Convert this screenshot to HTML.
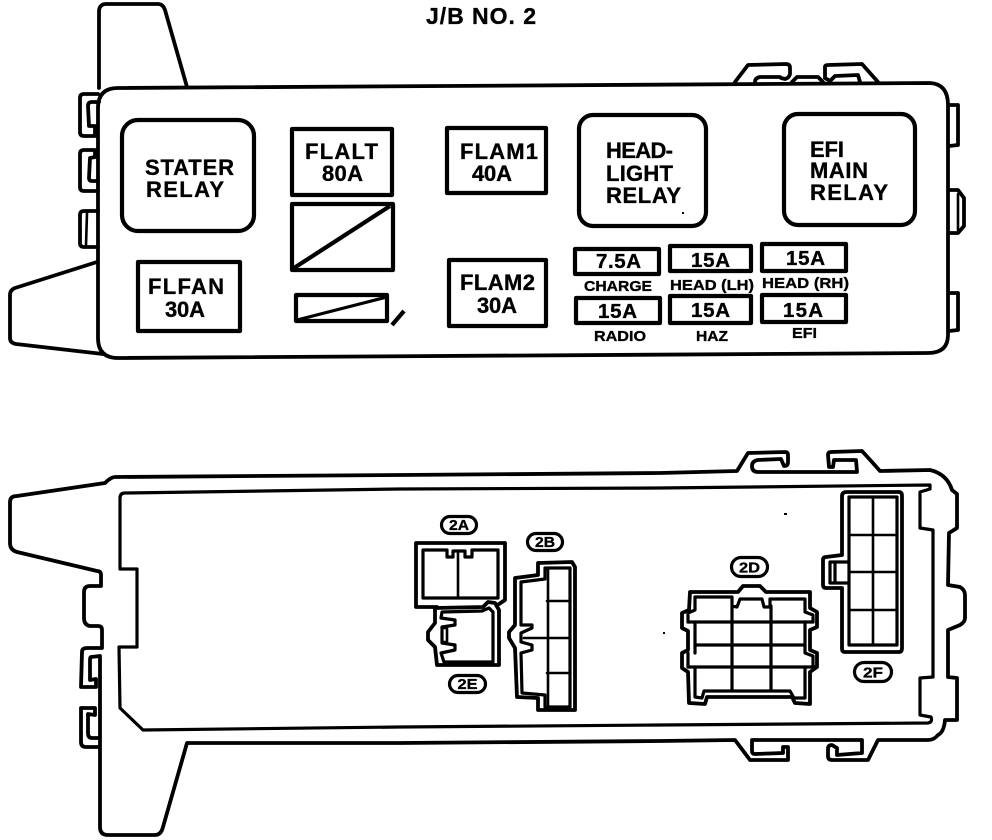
<!DOCTYPE html>
<html><head><meta charset="utf-8"><title>J/B No. 2</title>
<style>
html,body{margin:0;padding:0;background:#fff}
svg{display:block}
text{font-family:"Liberation Sans",Arial,sans-serif;font-weight:bold;fill:#000;stroke:#000;stroke-width:.35}
.o{fill:none;stroke:#000;stroke-width:3.8;stroke-linejoin:round;stroke-linecap:round}
.m{fill:none;stroke:#000;stroke-width:3.2;stroke-linejoin:round;stroke-linecap:round}
.t{fill:none;stroke:#000;stroke-width:2.6;stroke-linejoin:round;stroke-linecap:round}
.b{fill:none;stroke:#000;stroke-width:4.2;stroke-linejoin:round}
.f{font-size:22px}.g{font-size:20.5px}.l{font-size:15px}.c{font-size:15px}
</style></head><body>
<svg width="992" height="840" viewBox="0 0 992 840" xmlns="http://www.w3.org/2000/svg">
<rect width="992" height="840" fill="#fff"/>
<text x="426" y="24" font-size="23" textLength="110">J/B NO. 2</text>

<!-- TOP PANEL -->
<path class="o" d="M118,88 L930,83 Q948,84 948,105 L948,335 Q948,353 928,353 L118,358 Q98,358 98,338 L98,108 Q98,88 118,88Z"/>
<path class="o" d="M99,88 L99,12 Q99,4 106,4 L158,4 Q163,4 165,10 L187,87"/>
<path class="o" d="M98,94 L84,94 Q80,94 80,98 L80,132 Q80,136 84,136 L95,136 L95,126 L89,126 L88,106 Q88,102 92,102 L99,102"/>
<path class="o" d="M95,150 L84,150 Q80,150 80,154 L80,187 Q80,191 84,191 L98,191 M95,150 L95,157 L90,158 L89,178 Q89,181 92,181 L98,181"/>
<path class="o" d="M98,211 L84,211 Q80,211 80,215 L80,243 Q80,247 84,247 L98,247"/>
<path class="t" d="M87,213 L86,245"/>
<path class="o" d="M97,262 L15,288 Q10,290 10,295 L10,338 Q10,343 16,344 L103,354"/>
<path class="o" d="M735,82 L748,65 L786,64 Q790,64 790,68 L790,74 Q789,78 785,79 L781,78 L780,77 L760,77 Q755,78 755,82"/>
<path class="o" d="M792,82 L797,77 L818,77 L823,82"/>
<path class="o" d="M825,78 L825,67 Q825,65 828,65 L862,64 L878,82 M825,78 L830,81 L835,76 L858,75 L860,82"/>
<path class="o" d="M949,105 L958,105 L958,145 L949,146"/>
<path class="o" d="M949,190 L958,190 L964,198 L964,226 L958,233 L949,233"/>
<path class="t" d="M958,194 L958,230"/>
<path class="o" d="M950,293 L958,293 L958,330 L949,331"/>

<rect class="b" x="122" y="120" width="132" height="111" rx="16"/>
<rect class="b" x="292" y="129" width="100" height="66"/>
<rect class="b" x="292" y="204" width="101" height="66"/>
<path class="b" d="M294,268 L390,206"/>
<rect class="b" x="138" y="262" width="102" height="69"/>
<rect class="b" x="296" y="295" width="91" height="26"/>
<path class="m" d="M297,320 L387,297"/>
<path class="b" d="M392,325 L404,311"/>
<rect class="b" x="447" y="128" width="99" height="65"/>
<rect class="b" x="449" y="260" width="97" height="66"/>
<rect class="b" x="579" y="115" width="127" height="111" rx="14"/>
<rect class="b" x="784" y="114" width="131" height="111" rx="14"/>
<rect class="b" x="575" y="249" width="84" height="25"/>
<rect class="b" x="670" y="246" width="81" height="25"/>
<rect class="b" x="762" y="244" width="84" height="27"/>
<rect class="b" x="576" y="298" width="84" height="25"/>
<rect class="b" x="670" y="296" width="81" height="27"/>
<rect class="b" x="762" y="295" width="84" height="27"/>

<text class="f" x="145" y="175" textLength="89">STATER</text>
<text class="f" x="146" y="197" textLength="78">RELAY</text>
<text class="f" x="305" y="159" textLength="73">FLALT</text>
<text class="f" x="322" y="181" textLength="41">80A</text>
<text class="f" x="460" y="159" textLength="78">FLAM1</text>
<text class="f" x="472" y="181" textLength="40">40A</text>
<text class="f" x="148" y="294" textLength="76">FLFAN</text>
<text class="f" x="165" y="317" textLength="40">30A</text>
<text class="f" x="460" y="290" textLength="75">FLAM2</text>
<text class="f" x="477" y="313" textLength="40">30A</text>
<text class="f" x="606" y="158" textLength="67">HEAD-</text>
<text class="f" x="606" y="181" textLength="67">LIGHT</text>
<text class="f" x="606" y="203" textLength="75">RELAY</text>
<text class="f" x="810" y="157" textLength="34">EFI</text>
<text class="f" x="810" y="178" textLength="58">MAIN</text>
<text class="f" x="810" y="200" textLength="78">RELAY</text>
<text class="g" x="596" y="268" textLength="45">7.5A</text>
<text class="g" x="691" y="267" textLength="39">15A</text>
<text class="g" x="786" y="265" textLength="39">15A</text>
<text class="g" x="598" y="318" textLength="39">15A</text>
<text class="g" x="691" y="317" textLength="39">15A</text>
<text class="g" x="783" y="317" textLength="40">15A</text>
<text class="l" x="584" y="291" textLength="68" lengthAdjust="spacingAndGlyphs">CHARGE</text>
<text class="l" x="670" y="290" textLength="84" lengthAdjust="spacingAndGlyphs">HEAD (LH)</text>
<text class="l" x="762" y="288" textLength="87" lengthAdjust="spacingAndGlyphs">HEAD (RH)</text>
<text class="l" x="594" y="341" textLength="52" lengthAdjust="spacingAndGlyphs">RADIO</text>
<text class="l" x="696" y="341" textLength="32" lengthAdjust="spacingAndGlyphs">HAZ</text>
<text class="l" x="792" y="338" textLength="25" lengthAdjust="spacingAndGlyphs">EFI</text>

<!-- BOTTOM PANEL -->
<path class="o" d="M115,477 L400,475 L660,473 L737,471 L748,453 L785,452 Q788,452 788,455 L788,462 Q788,466 784,466 L781,459 L758,460 Q752,461 752,466 Q752,472 758,472 L857,472 L856,460 L834,460 L833,467 L829,467 L828,455 Q828,452 831,452 L862,451 L872,462 L880,471 L930,470 Q947,474 952,490 L957,494 L957,528 L949,533 L948,585 L960,587 Q965,590 965,595 L965,618 Q965,622 960,625 L948,630 L948,677 L957,678 L957,720 L945,720 Q944,732 938,735 Q934,740 928,740 L878,740 L868,760 L832,760 Q828,760 828,756 L828,749 Q828,745 832,745 L837,748 L837,755 L862,753 L862,740 L752,740 L752,751 Q752,754 755,754 L783,753 L783,747 L788,747 L788,760 L750,760 L735,740 L660,741 L400,743 L187,743 L163,827 Q161,835 155,835 L108,835 Q100,835 100,827 L100,747 L86,747 Q81,747 81,742 L81,708 L95,708 L95,715 L88,714 L88,733 Q88,738 92,738 L100,738 M100,747 L100,656 L91,657 Q90,657 90,660 L90,680 L96,679 L96,687 L81,687 L82,652 Q82,648 87,648 L102,648 L102,630 Q102,626 98,626 L90,626 Q84,625 84,618 L84,592 Q84,586 90,586 L101,586 L101,575 Q101,571 97,571 L17,552 Q10,550 10,543 L10,502 Q10,496 17,496 L105,483 Q111,477 115,477"/>
<path class="m" d="M125,493 L400,489 L660,488 L930,485 L930,489 L920,492 L920,528 L933,530 L933,677 L920,678 L920,715 L931,717 Q933,722 928,723 L660,725 L400,727 L143,730 L120,708 L119,647 L137,647 L137,569 L120,569 L120,498 Q120,493 125,493Z"/>

<!-- 2A -->
<path class="o" d="M437,607 L416,607 L416,543 L505,543 L505,600 L499,604"/>
<path class="m" d="M423,550 L447,550 L447,557 L453,557 L453,551 L465,551 L465,557 L472,557 L472,550 L498,550 L498,598 L423,598Z"/>
<path class="t" d="M458,551 L458,598"/>
<!-- 2E -->
<path class="o" d="M435,608 L483,607 L488,602 L495,603 L499,610 L499,665 L437,665 L435,647 L428,640 L428,632 L435,623Z"/>
<path class="m" d="M442,612 L482,611 L489,608 L493,612 L493,662 L444,662 L441,653 L455,650 L455,645 L442,643 L442,627 L455,625 L455,620 L441,618Z"/>
<rect class="t" x="442" y="628" width="5" height="14"/>
<!-- 2B -->
<path class="o" d="M538,563 L572,562 L575,567 L575,710 L538,710 L538,698 L517,697 L515,648 L509,638 L509,632 L515,625 L515,578 L538,575Z"/>
<path class="m" d="M545,568 L570,568 L570,707 L545,707 L545,695 L522,693 L521,653 L532,650 L532,645 L521,642 L521,633 L532,628 L532,625 L521,625 L521,582 L545,579Z"/>
<path class="t" d="M548,568 L548,707 M547,601 L570,601 M524,638 L570,638 M547,673 L570,673"/>
<!-- 2D -->
<path class="o" d="M690,592 L738,592 L743,586 L760,586 L766,592 L810,592 L810,608 L817,612 L817,627 L810,630 L810,650 L817,653 L817,667 L810,672 L810,704 L795,703 L792,697 L707,697 L705,704 L689,703 L688,672 L682,668 L682,653 L688,650 L688,631 L682,628 L682,613 L689,610Z"/>
<path class="m" d="M695,597 L695,610 L688,613 L688,622 M732,597 L695,597 M732,597 L732,606 L737,607 L740,599 L762,599 L764,607 L770,607 L770,599 L805,599 L805,612 L813,615 L813,622 M695,622 L695,653 M688,653 L688,667 M805,622 L805,653 L813,656 L813,667 M695,667 L695,697 L702,698 L704,691 L790,691 L794,698 L805,698 L805,667"/>
<path class="m" d="M688,622 L813,622 M695,645 L805,645 M688,667 L815,667 M732,606 L732,690 M771,606 L771,690"/>
<!-- 2F -->
<path class="o" d="M847,492 L899,492 Q902,492 902,496 L902,648 Q902,652 899,652 L845,652 Q842,652 842,649 L842,588 L826,588 Q823,588 823,585 L823,560 Q823,557 826,557 L842,555 L842,496 Q842,492 847,492Z"/>
<rect class="m" x="849" y="497" width="48" height="148"/>
<path class="m" d="M849,562 L830,562 L830,583 L849,583 M835,563 L835,582"/>
<path class="t" d="M873,497 L873,645 M849,535 L897,535 M849,572 L897,572 M849,610 L897,610"/>

<!-- labels -->
<rect class="m" x="441.5" y="516.5" width="35" height="17" rx="8.5"/>
<text class="c" x="449" y="530" textLength="20" lengthAdjust="spacingAndGlyphs">2A</text>
<rect class="m" x="527.5" y="533.5" width="35" height="17" rx="8.5"/>
<text class="c" x="535" y="547" textLength="20" lengthAdjust="spacingAndGlyphs">2B</text>
<rect class="m" x="449.5" y="675.5" width="36" height="17" rx="8.5"/>
<text class="c" x="457.5" y="689" textLength="20" lengthAdjust="spacingAndGlyphs">2E</text>
<rect class="m" x="731.5" y="557.5" width="36" height="19" rx="9.5"/>
<text class="c" x="739" y="572.5" textLength="21" lengthAdjust="spacingAndGlyphs">2D</text>
<rect class="m" x="854.5" y="662.5" width="37" height="19" rx="9.5"/>
<text class="c" x="863" y="677.5" textLength="20" lengthAdjust="spacingAndGlyphs">2F</text>

<!-- specks -->
<rect x="784" y="513" width="3" height="2"/>
<rect x="663" y="632" width="2" height="2"/>
<rect x="682" y="212" width="2" height="2"/>
</svg>
</body></html>
